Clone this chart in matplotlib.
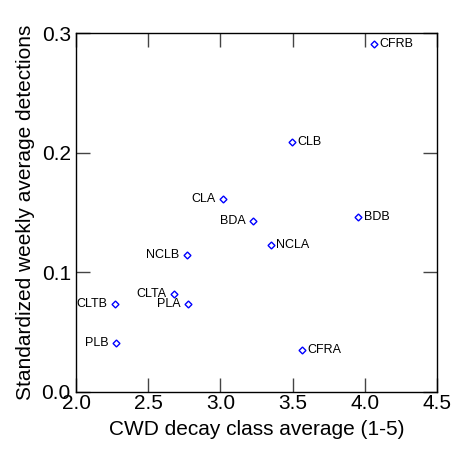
import matplotlib
matplotlib.use('Agg')
import matplotlib.pyplot as plt

plt.rcParams['font.family'] = ['Liberation Sans', 'DejaVu Sans']

labels = ['CFRB', 'CLB', 'CLA', 'BDA', 'BDB', 'NCLA', 'NCLB',
          'CLTA', 'PLA', 'CLTB', 'PLB', 'CFRA']
decay = [4.064, 3.496, 3.02, 3.228, 3.955, 3.348, 2.766,
         2.676, 2.773, 2.265, 2.274, 3.567]
detections = [0.2908, 0.209, 0.1613, 0.1429, 0.1462, 0.1231, 0.1142,
              0.0818, 0.0737, 0.0734, 0.0408, 0.0349]
side = ['r', 'r', 'l', 'l', 'r', 'r', 'l', 'l', 'l', 'l', 'l', 'r']

fig = plt.figure(figsize=(4.52, 4.53), dpi=100)
ax = fig.add_axes([0.169, 0.1353, 0.797, 0.7912])

ax.plot(decay, detections, linestyle='none', marker='D', markersize=3.5,
        markerfacecolor='none', markeredgecolor='blue', markeredgewidth=1)

for lab, x, y, s in zip(labels, decay, detections, side):
    if s == 'r':
        ax.annotate(lab, (x, y), xytext=(4, 0), textcoords='offset points',
                    ha='left', va='center', fontsize=9)
    else:
        ax.annotate(lab, (x, y), xytext=(-5.5, 0), textcoords='offset points',
                    ha='right', va='center', fontsize=9)

ax.set_xlim(2.0, 4.5)
ax.set_ylim(0.0, 0.3)
ax.set_xticks([2.0, 2.5, 3.0, 3.5, 4.0, 4.5])
ax.set_yticks([0.0, 0.1, 0.2, 0.3])
ax.set_xticklabels(['2.0', '2.5', '3.0', '3.5', '4.0', '4.5'])
ax.set_yticklabels(['0.0', '0.1', '0.2', '0.3'])
ax.tick_params(direction='in', length=10, width=1, top=True, right=True,
               labelsize=15, color='#444444')
ax.tick_params(axis='x', pad=2)
ax.tick_params(axis='y', pad=4)
for sp in ax.spines.values():
    sp.set_linewidth(1)

ax.set_xlabel('CWD decay class average (1-5)', fontsize=15, labelpad=5)
ax.set_ylabel('Standardized weekly average detections', fontsize=15, labelpad=5)

plt.savefig('out.png', dpi=100)
plt.close()
